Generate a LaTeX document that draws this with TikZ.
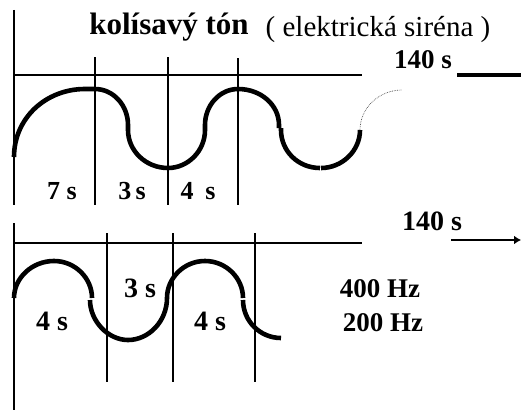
\documentclass[tikz,border=0pt]{standalone}
\usepackage{fontspec}
\setmainfont{Liberation Serif}
\usetikzlibrary{arrows.meta}
\tikzset{
  thinline/.style={line width=1.8pt},
  wave/.style={line width=4.6pt},
  lbl/.style={inner sep=0pt, anchor=base, font=\bfseries\fontsize{#1}{#1}\selectfont},
  plain/.style={inner sep=0pt, anchor=base, font=\fontsize{#1}{#1}\selectfont}
}
\begin{document}
\begin{tikzpicture}[x=1pt,y=-1pt]
\useasboundingbox (0,0) rectangle (521,412);
% ---------- top diagram ----------
\draw[thinline] (14,10) -- (14,205);
\draw[thinline] (14,75) -- (362,75);
\draw[thinline] (95,57) -- (95,205);
\draw[thinline] (168,57) -- (168,205);
\draw[thinline] (238,58) -- (238,205);
\draw[line width=3.4pt] (457,75) -- (521,75);
% wave
\draw[wave] (14,157) .. controls (14,118) and (46,89) .. (85,89) -- (95,89)
  .. controls (113,89) and (128,105) .. (128,125) -- (128,130)
  .. controls (128,151) and (146,168) .. (168,168)
  .. controls (188,168) and (205,151) .. (205,130) -- (205,125)
  .. controls (205,105) and (220,89) .. (238,89)
  .. controls (261,89) and (279,105) .. (279,125) -- (279,128);
\draw[wave] (281,128) -- (281,130) .. controls (281,151) and (298,168) .. (320,168);
\draw[wave] (321,168) .. controls (342,168) and (360,151) .. (360,130);
\draw[densely dotted, line width=0.7pt, black!70] (360,130) .. controls (360,108) and (379,90) .. (402,90);
% labels
\node[lbl=31] (title) at (169,35) {kolísavý tón};
\node[plain=29] (sub) at (378,37) {( elektrická siréna )};
\node[lbl=27] (t1) at (423,68) {140 s};
\node[lbl=26] (a) at (62,199) {7 s};
\node[lbl=26] (b) at (132,199) {3\,s};
\node[lbl=26] (c) at (198,199) {4\hspace{0.45em}s};
% ---------- bottom diagram ----------
\draw[thinline] (14,223) -- (14,410);
\draw[thinline] (14,243) -- (362,243);
\draw[thinline] (107,233) -- (107,382);
\draw[thinline] (173,233) -- (173,382);
\draw[thinline] (255,233) -- (255,382);
\draw[wave] (14,298) .. controls (14,278) and (32,261) .. (54,261)
  .. controls (75,261) and (92,278) .. (92,298);
\draw[wave] (90,300) .. controls (90,321) and (108,340) .. (128,340)
  .. controls (149,340) and (167,321) .. (167,298)
  .. controls (167,278) and (184,261) .. (205,261)
  .. controls (226,261) and (243,278) .. (243,298);
\draw[wave] (243,300) .. controls (243,321) and (260,338) .. (281,338);
\coordinate (ar0) at (451,240);
\coordinate (ar1) at (521,240);
\draw[line width=2.8pt, -{Latex[length=7pt,width=9pt]}] (ar0) -- (ar1);
\node[lbl=28] (t2) at (432,230) {140 s};
\node[lbl=28] (d) at (52,330) {4 s};
\node[lbl=28] (e) at (140,297) {3 s};
\node[lbl=28] (f) at (210,330) {4 s};
\node[lbl=27] (h1) at (380,297) {400 Hz};
\node[lbl=27] (h2) at (383,331) {200 Hz};
\end{tikzpicture}
\end{document}
